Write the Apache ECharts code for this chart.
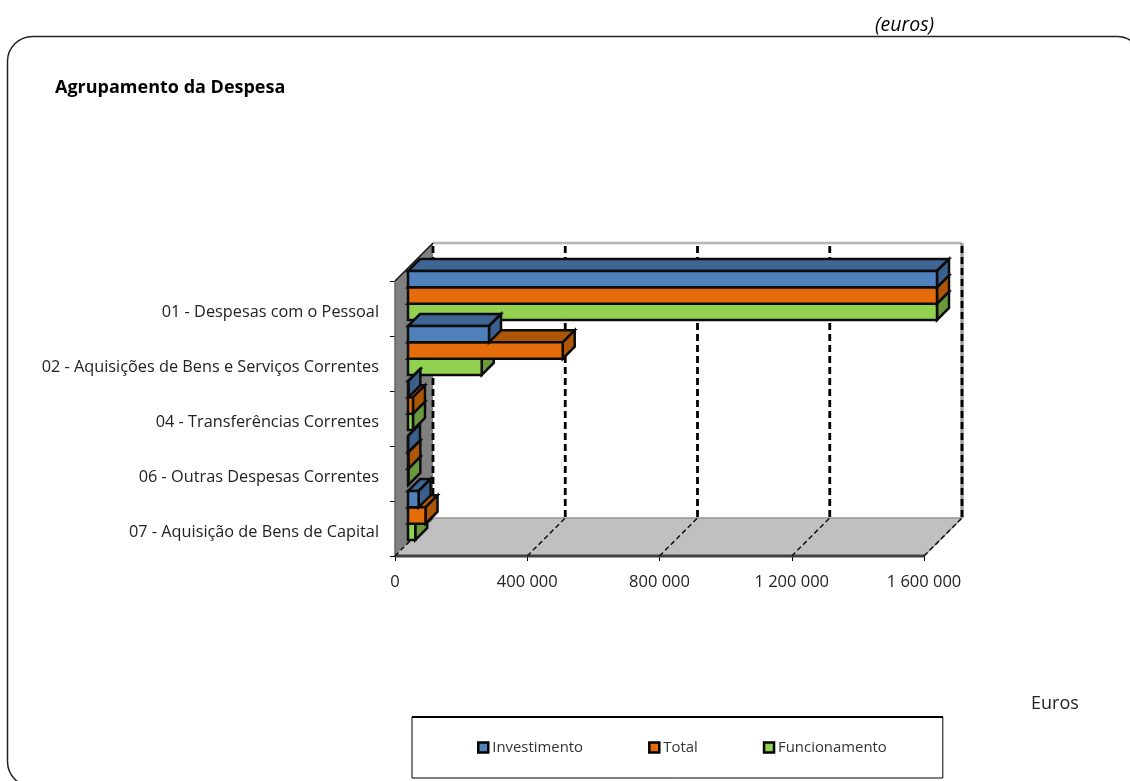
<!DOCTYPE html>
<html><head><meta charset="utf-8">
<style>html,body{margin:0;padding:0;background:#fff}#c{width:1130px;height:781px}</style>
<script src="https://cdn.jsdelivr.net/npm/echarts@6/dist/echarts.min.js"></script>
</head><body><div id="c"></div>
<script>
const categories = ['01 - Despesas com o Pessoal','02 - Aquisições de Bens e Serviços Correntes','04 - Transferências Correntes','06 - Outras Despesas Correntes','07 - Aquisição de Bens de Capital'];
const investimento = [1600000, 245000, 1000, 0, 32000];
const total = [1600000, 468000, 15000, 1000, 53000];
const funcionamento = [1600000, 223000, 15000, 1000, 22000];
const tickValues = [0, 400000, 800000, 1200000, 1600000];

const FONT = 'Open Sans';
const WALL = 38, OFF = 13, BAR = 12;
const BAR_FRAC = 16.33/55;

function bars(seriesIdx, face, top, side){
  return function(params, api){
    const v = api.value(0), cat = api.value(1);
    const p0 = api.coord([0, cat]), p1 = api.coord([v, cat]);
    const h = api.size([0,1])[1]*BAR_FRAC;
    const yc = p0[1] - OFF + (seriesIdx-1)*h;
    const x0 = p0[0]+OFF, x1 = p1[0]+OFF, y0 = yc-h/2, y1 = yc+h/2;
    const z2 = (cat*10 + (2-seriesIdx))+10;
    const st = c => ({fill:c, stroke:'#0c0c0c', lineWidth:2.5, lineJoin:'miter'});
    return {type:'group', children:[
      {type:'polygon', z2, shape:{points:[[x0,y0],[x1,y0],[x1+BAR,y0-BAR],[x0+BAR,y0-BAR]]}, style:st(top)},
      {type:'polygon', z2, shape:{points:[[x1,y0],[x1+BAR,y0-BAR],[x1+BAR,y1-BAR],[x1,y1]]}, style:st(side)},
      {type:'rect', z2, shape:{x:x0,y:y0,width:x1-x0,height:h}, style:st(face)}
    ]};
  };
}
function walls(params, api){
  const i = params.dataIndex, v = api.value(0);
  const n = categories.length;
  const top = api.coord([0,0]), bot = api.coord([0,n-1]);
  const band = api.size([0,1])[1];
  const yT = top[1]-band/2, yB = bot[1]+band/2;
  const x = api.coord([v,0])[0];
  const xEnd = api.coord([tickValues[tickValues.length-1],0])[0];
  const ch = [];
  if(i===0){
    ch.push({type:'polygon', z2:1, shape:{points:[[x,yT],[x+WALL,yT-WALL],[x+WALL,yB-WALL],[x,yB]]}, style:{fill:'#808080'}});
    ch.push({type:'polygon', z2:1, shape:{points:[[x,yB],[x+WALL,yB-WALL],[xEnd+WALL,yB-WALL],[xEnd,yB]]}, style:{fill:'#c0c0c0'}});
    ch.push({type:'line', z2:2, shape:{x1:x+WALL,y1:yT-WALL,x2:xEnd+WALL,y2:yT-WALL}, style:{stroke:'#b4b4b4',lineWidth:2.5}});
    ch.push({type:'line', z2:2, shape:{x1:x+WALL,y1:yB-WALL,x2:xEnd+WALL,y2:yB-WALL}, style:{stroke:'#969696',lineWidth:1.5}});
    ch.push({type:'line', z2:2, shape:{x1:xEnd,y1:yB,x2:xEnd+WALL,y2:yB-WALL}, style:{stroke:'#969696',lineWidth:1.5}});
    ch.push({type:'line', z2:2, shape:{x1:xEnd+WALL,y1:yT-WALL,x2:xEnd+WALL,y2:yB-WALL}, style:{stroke:'#a0a0a0',lineWidth:3.5}});
    ch.push({type:'line', z2:3, shape:{x1:x,y1:yT,x2:x+WALL,y2:yT-WALL}, style:{stroke:'#111',lineWidth:1.5}});
    ch.push({type:'line', z2:3, shape:{x1:x,y1:yT,x2:x,y2:yB}, style:{stroke:'#666',lineWidth:1.5}});
    ch.push({type:'line', z2:3, shape:{x1:x,y1:yB,x2:xEnd,y2:yB}, style:{stroke:'#404040',lineWidth:3}});
  }
  ch.push({type:'line', z2:4, shape:{x1:x+WALL,y1:yT-WALL+3,x2:x+WALL,y2:yB-WALL}, style:{stroke:'#000',lineWidth:2.8,lineDash:[7,4]}});
  ch.push({type:'line', z2:4, shape:{x1:x,y1:yB,x2:x+WALL,y2:yB-WALL}, style:{stroke:'#111',lineWidth:1.5,lineDash:[5,3]}});
  return {type:'group', children:ch};
}
const mk = (name, arr, idx, face, top, side) => ({
  name, type:'custom', silent:true, clip:false, z:2,
  itemStyle:{color:face},
  renderItem:bars(idx, face, top, side),
  encode:{x:0,y:1},
  data:arr.map((v,i)=>[v,i])
});
const chart = echarts.init(document.getElementById('c'), null, {renderer:'canvas'});
chart.setOption({
  animation:false, backgroundColor:'#fff',
  title:[
    {text:'Agrupamento da Despesa', left:50, top:74, textStyle:{fontFamily:FONT,fontSize:18,fontWeight:'bold',color:'#000'}},
    {text:'(euros)', left:870, top:10, textStyle:{fontFamily:FONT,fontSize:19.5,fontStyle:'italic',fontWeight:'normal',color:'#000'}},
    {text:'Euros', left:1026, top:690, textStyle:{fontFamily:FONT,fontSize:18,fontWeight:'normal',color:'#222'}}
  ],
  grid:{left:395, right:206, top:281, bottom:225},
  xAxis:{type:'value', min:0, max:1600000, interval:400000, splitLine:{show:false},
    axisLine:{show:false}, axisTick:{show:true,length:5,lineStyle:{color:'#000'}},
    axisLabel:{margin:18, fontFamily:FONT, fontSize:16.5, color:'#222', formatter:v=>String(v).replace(/\B(?=(\d{3})+$)/g,' ')}},
  yAxis:{type:'category', inverse:true, data:categories, axisLine:{show:false},
    axisTick:{show:true,length:5,lineStyle:{color:'#000'}},
    axisLabel:{margin:16, formatter:v=>'{a|'+v+'}',
      rich:{a:{fontFamily:FONT, fontSize:16.3, color:'#222', padding:[7,0,0,0]}}}},
  legend:{left:412, top:717, data:['Investimento','Total','Funcionamento'], orient:'horizontal',
    padding:[23,56,23,65], itemGap:65, itemWidth:10, itemHeight:10, icon:'rect',
    borderColor:'#000', borderWidth:1, backgroundColor:'#fff',
    itemStyle:{borderColor:'#000',borderWidth:2.5},
    textStyle:{fontFamily:FONT,fontSize:14.9,color:'#333',padding:[0,0,0,-1]}},
  series:[
    {name:'walls', type:'custom', silent:true, clip:false, z:1, renderItem:walls, encode:{x:0}, data:tickValues.map(v=>[v])},
    mk('Investimento', investimento, 0, '#4f81bd', '#3f6594', '#3a5f8c'),
    mk('Total', total, 1, '#e46c0a', '#ad5608', '#ad5608'),
    mk('Funcionamento', funcionamento, 2, '#92d050', '#6a983c', '#6a983c')
  ],
  graphic:[
    {type:'rect', silent:true, z:-1, shape:{x:7.5,y:36.5,width:1134.5,height:750,r:25}, style:{fill:'none',stroke:'#222',lineWidth:1.5}},
    {type:'line', silent:true, z:10, shape:{x1:412,y1:717,x2:943,y2:717}, style:{stroke:'#000',lineWidth:2}}
  ]
});
</script></body></html>
